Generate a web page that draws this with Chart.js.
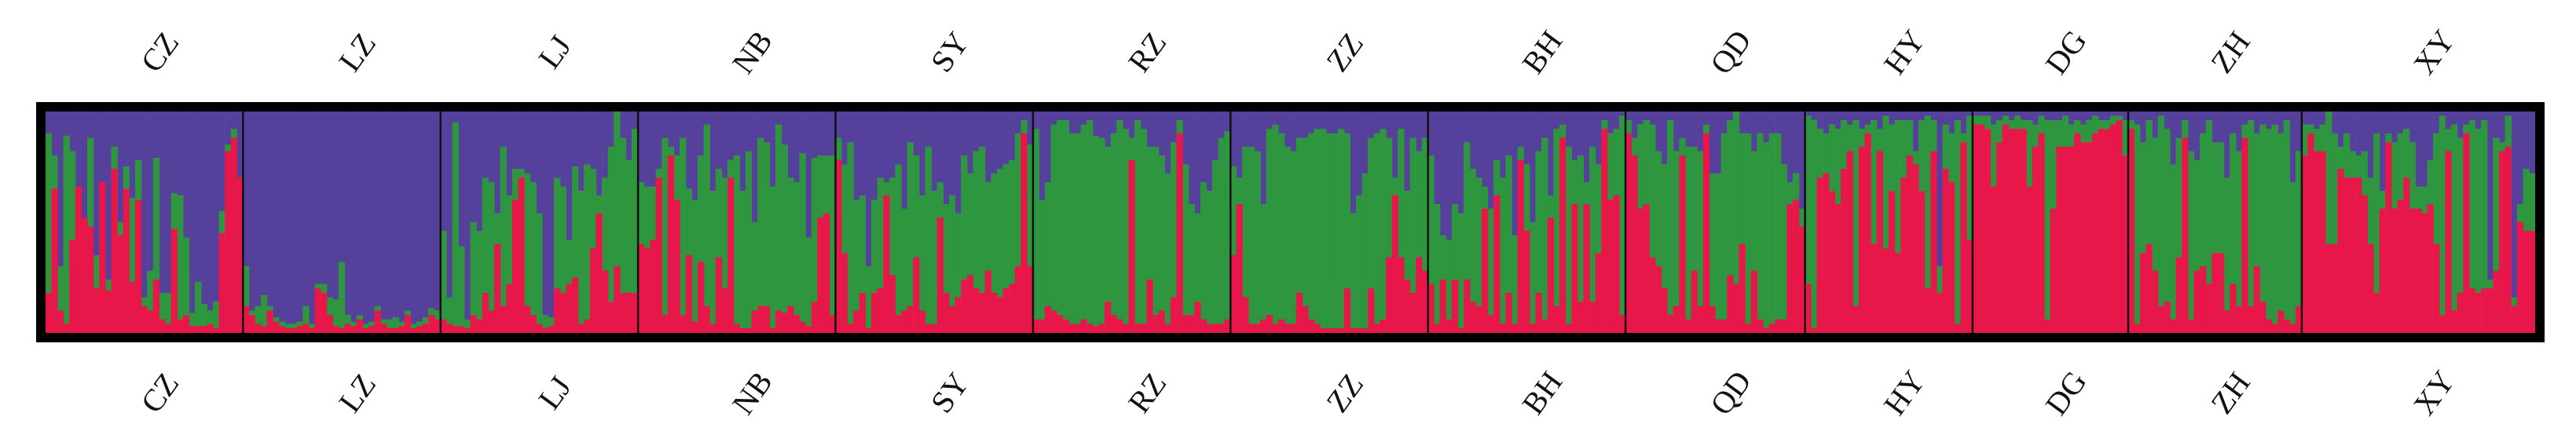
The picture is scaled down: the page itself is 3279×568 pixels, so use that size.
<!DOCTYPE html>
<html>
<head>
<meta charset="utf-8">
<script src="https://cdn.jsdelivr.net/npm/chart.js@4/dist/chart.umd.min.js"></script>
<style>
  html, body { margin: 0; padding: 0; background: #fff; }
  #wrap { width: 3279px; height: 568px; }
</style>
</head>
<body>
<div id="wrap"><canvas id="structChart" width="3279" height="568"></canvas></div>
<script>
// populations, in plot order
const pops = ['CZ', 'LZ', 'LJ', 'NB', 'SY', 'RZ', 'ZZ', 'BH', 'QD', 'HY', 'DG', 'ZH', 'XY'];

// membership (%) per individual: red cluster and green cluster; blue is the remainder
const redCZ = [18,65,10,4,42,66,52,48,20,68,19,74,44,65,23,60,12,10,24,6,4,47,6,8,3,3,3,4,2,45,82,88,70];
const greenCZ = [72,15,20,85,40,0,0,40,15,0,5,10,6,10,38,18,4,18,55,12,14,16,56,35,6,20,10,6,12,10,3,4,0];
const redLZ = [12,8,4,3,10,5,3,2,2,3,4,2,20,18,8,3,2,4,3,6,2,3,10,4,2,2,3,8,2,3,4,8,6];
const greenLZ = [18,2,8,14,2,2,2,2,2,2,8,2,2,4,8,12,30,4,2,2,2,2,2,2,4,5,2,2,2,2,3,3,4];
const redLJ = [6,4,3,3,2,8,6,18,10,40,12,22,60,70,12,8,4,2,3,20,18,22,25,4,6,38,54,28,14,30,18,18,18];
const greenLJ = [40,12,92,36,4,42,40,52,58,14,72,40,14,4,60,60,50,6,4,50,48,20,50,60,70,36,8,42,70,70,70,60,74];
const redNB = [40,38,42,70,8,80,60,8,35,5,32,12,4,34,20,70,4,2,2,10,12,12,2,10,9,12,8,5,3,14,52,54,8];
const greenNB = [28,28,24,4,80,4,20,80,30,55,48,82,60,40,50,8,76,62,80,40,76,74,64,84,76,58,60,76,40,65,28,26,72];
const redSY = [78,36,4,10,18,2,18,20,62,26,8,10,12,34,10,4,4,52,18,12,16,24,26,20,18,28,18,16,20,22,30,90,30];
const greenSY = [10,40,82,50,44,28,42,50,6,44,68,46,74,46,52,80,60,16,40,50,38,56,46,62,66,40,54,58,56,56,60,6,55];
const redRZ = [6,6,12,10,8,6,4,4,6,4,3,4,14,8,6,4,78,4,4,24,8,10,4,16,90,8,8,14,6,4,4,4,6];
const greenRZ = [86,54,56,84,88,90,86,86,88,92,86,84,70,82,90,88,10,92,88,60,76,70,68,70,6,68,50,40,62,60,74,84,85];
const redZZ = [35,58,16,4,4,6,8,4,6,4,4,18,12,6,4,2,2,2,2,20,2,2,2,20,4,6,34,62,34,24,18,34,28];
const greenZZ = [40,12,68,80,78,52,84,90,84,80,78,70,76,84,88,90,88,88,90,70,52,60,70,68,86,86,54,8,58,40,70,48,60];
const redBH = [22,4,24,6,24,2,24,14,12,56,8,62,4,18,4,78,46,4,18,6,52,12,88,4,58,14,58,14,36,92,60,62,8];
const greenBH = [58,54,20,36,34,52,62,60,58,10,48,16,66,62,40,6,30,46,64,82,10,80,6,80,20,66,10,70,40,4,30,30,90];
const redQD = [90,80,56,58,34,30,20,8,12,80,6,28,12,90,12,6,6,26,22,40,4,28,6,2,4,6,6,58,60,48];
const greenQD = [6,8,38,38,60,52,56,88,70,8,78,56,70,4,60,66,84,70,78,50,86,54,84,84,86,84,70,10,12,8];
const redHY = [22,2,70,72,64,58,74,82,12,84,90,40,82,38,64,36,70,80,76,64,20,82,18,74,68,4,86,42];
const greenHY = [76,94,22,18,30,34,22,12,84,8,4,56,10,60,30,60,26,16,6,32,78,14,12,20,22,92,4,56];
const redDG = [94,94,92,66,86,94,92,92,92,66,84,90,6,56,84,84,84,90,86,86,90,92,92,94,96,80];
const greenDG = [4,4,6,28,10,4,4,6,4,30,10,8,90,40,12,14,10,6,8,10,8,4,4,4,2,16];
const redZH = [92,4,36,40,28,12,14,6,34,88,6,28,30,22,36,36,10,22,12,88,12,30,14,6,4,10,6,4,12];
const greenZH = [4,90,50,56,60,86,78,70,54,8,76,50,60,74,50,50,60,68,70,6,84,60,80,86,90,80,90,64,70];
const redXY = [80,90,82,82,40,40,74,70,70,70,62,40,18,56,86,56,60,70,56,56,54,58,40,8,82,10,18,90,20,18,20,20,28,82,84,12,50,46,46];
const greenXY = [14,4,10,12,60,50,10,20,12,10,20,30,72,8,4,30,30,22,30,10,12,20,50,90,10,84,70,4,76,74,76,4,60,4,14,4,8,28,26];

const redAll = [redCZ, redLZ, redLJ, redNB, redSY, redRZ, redZZ, redBH, redQD, redHY, redDG, redZH, redXY];
const greenAll = [greenCZ, greenLZ, greenLJ, greenNB, greenSY, greenRZ, greenZZ, greenBH, greenQD, greenHY, greenDG, greenZH, greenXY];

const red = redAll.flat();
const green = greenAll.flat();
const blue = red.map((r, i) => Math.max(0, 100 - r - green[i]));
const labels = red.map((_, i) => String(i));
const groupSizes = redAll.map(a => a.length);

// population separators, thick frame and rotated labels
const popPlugin = {
  id: 'popPlugin',
  afterDatasetsDraw(chart) {
    const { ctx, chartArea: a, scales: { x } } = chart;
    ctx.save();
    let start = 0;
    const centers = [];
    groupSizes.forEach((n, gi) => {
      const left = start === 0 ? a.left : (x.getPixelForValue(start - 1) + x.getPixelForValue(start)) / 2;
      const end = start + n;
      const right = end >= red.length ? a.right : (x.getPixelForValue(end - 1) + x.getPixelForValue(end)) / 2;
      centers.push((left + right) / 2);
      if (start > 0) {
        ctx.strokeStyle = '#111';
        ctx.lineWidth = 2.5;
        ctx.beginPath();
        ctx.moveTo(left, a.top);
        ctx.lineTo(left, a.bottom);
        ctx.stroke();
      }
      start = end;
    });
    ctx.strokeStyle = '#000';
    ctx.lineWidth = 12;
    ctx.strokeRect(a.left - 6, a.top - 6, a.right - a.left + 12, a.bottom - a.top + 12);

    ctx.fillStyle = '#111';
    ctx.font = '40px "Liberation Serif", serif';
    ctx.textAlign = 'center';
    ctx.textBaseline = 'middle';
    pops.forEach((p, i) => {
      [68, 502].forEach(y => {
        ctx.save();
        ctx.translate(centers[i] + 22, y);
        ctx.rotate(-Math.PI * 0.3);
        ctx.fillText(p, 0, 0);
        ctx.restore();
      });
    });
    ctx.restore();
  }
};

new Chart(document.getElementById('structChart').getContext('2d'), {
  type: 'bar',
  data: {
    labels: labels,
    datasets: [
      { label: 'K1', data: red, backgroundColor: '#e8174a' },
      { label: 'K2', data: green, backgroundColor: '#2f9640' },
      { label: 'K3', data: blue, backgroundColor: '#55409b' }
    ]
  },
  options: {
    responsive: false,
    animation: false,
    layout: { padding: { left: 58, right: 52, top: 142, bottom: 144 } },
    datasets: { bar: { categoryPercentage: 1, barPercentage: 1, borderWidth: 0 } },
    plugins: { legend: { display: false }, tooltip: { enabled: false } },
    scales: {
      x: { stacked: true, display: false },
      y: { stacked: true, display: false, min: 0, max: 100 }
    }
  },
  plugins: [popPlugin]
});
</script>
</body>
</html>
